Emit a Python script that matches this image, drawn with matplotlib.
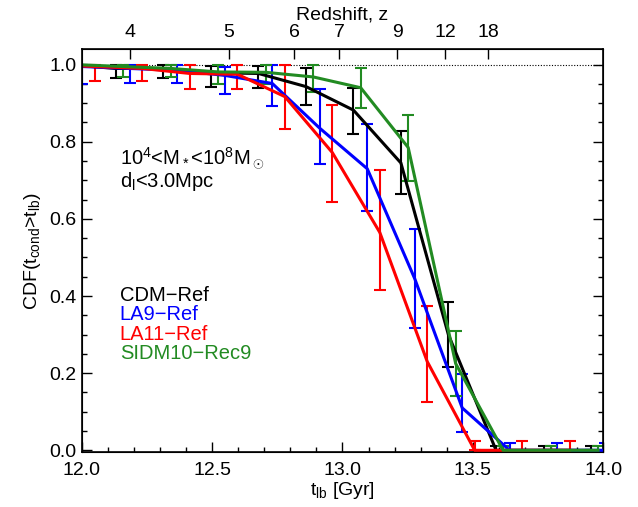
import matplotlib
matplotlib.use("Agg")
import matplotlib.pyplot as plt
from matplotlib.ticker import MultipleLocator

plt.rcParams['font.family'] = ['Liberation Sans', 'DejaVu Sans']
plt.rcParams['mathtext.fontset'] = 'custom'
plt.rcParams['mathtext.rm'] = 'Liberation Sans'
plt.rcParams['mathtext.it'] = 'Liberation Sans:italic'
plt.rcParams['mathtext.sf'] = 'Liberation Sans'

# ---- data ----
t_cdm = [11.948, 12.130, 12.313, 12.496, 12.678, 12.860, 13.042, 13.224, 13.406, 13.589, 13.771, 13.953]
cdf_cdm = [1.0, 0.99, 0.99, 0.979, 0.977, 0.943, 0.882, 0.745, 0.30, 0.0, 0.0, 0.0]
lo_cdm = [1.0, 0.966, 0.966, 0.942, 0.940, 0.896, 0.82, 0.664, 0.215, 0.0, 0.0, 0.0]
hi_cdm = [1.0, 1.0, 1.0, 0.997, 0.997, 0.99, 0.94, 0.828, 0.384, 0.01, 0.01, 0.01]

t_la9 = [12.003, 12.185, 12.367, 12.549, 12.731, 12.913, 13.095, 13.277, 13.459, 13.641, 13.823, 14.005]
cdf_la9 = [0.995, 0.99, 0.985, 0.972, 0.951, 0.835, 0.73, 0.445, 0.11, 0.0, 0.0, 0.0]
lo_la9 = [0.951, 0.953, 0.953, 0.923, 0.893, 0.742, 0.62, 0.318, 0.047, 0.0, 0.0, 0.0]
hi_la9 = [1.0, 1.0, 1.0, 0.994, 0.998, 0.938, 0.847, 0.575, 0.198, 0.02, 0.02, 0.02]

t_la11 = [11.869, 12.051, 12.233, 12.415, 12.597, 12.779, 12.961, 13.143, 13.325, 13.507, 13.689, 13.871]
cdf_la11 = [1.0, 0.995, 0.99, 0.977, 0.975, 0.917, 0.772, 0.565, 0.23, 0.0, 0.0, 0.0]
lo_la11 = [1.0, 0.957, 0.957, 0.938, 0.938, 0.832, 0.645, 0.416, 0.125, 0.0, 0.0, 0.0]
hi_la11 = [1.0, 1.0, 1.0, 0.998, 0.998, 0.998, 0.895, 0.728, 0.374, 0.023, 0.023, 0.023]

t_sidm = [11.978, 12.160, 12.342, 12.524, 12.706, 12.888, 13.070, 13.252, 13.434, 13.616, 13.798, 13.980]
cdf_sidm = [1.0, 0.995, 0.99, 0.981, 0.98, 0.968, 0.94, 0.785, 0.225, 0.0, 0.0, 0.0]
lo_sidm = [1.0, 0.968, 0.968, 0.949, 0.949, 0.929, 0.888, 0.698, 0.14, 0.0, 0.0, 0.0]
hi_sidm = [1.0, 1.0, 1.0, 0.998, 1.0, 1.0, 0.99, 0.869, 0.31, 0.01, 0.01, 0.01]

labels = ['CDM\u2212Ref', 'LA9\u2212Ref', 'LA11\u2212Ref', 'SIDM10\u2212Rec9']
colors = ['black', 'blue', 'red', '#228B22']

z_labels = ['4', '5', '6', '7', '9', '12', '18']
z_tlb = [12.184, 12.564, 12.814, 12.988, 13.210, 13.393, 13.559]

fig = plt.figure(figsize=(6.38, 5.07), dpi=100)
ax = fig.add_axes([0.128, 0.108, 0.8176, 0.795])

series = [(t_cdm, cdf_cdm, lo_cdm, hi_cdm), (t_la9, cdf_la9, lo_la9, hi_la9),
          (t_la11, cdf_la11, lo_la11, hi_la11), (t_sidm, cdf_sidm, lo_sidm, hi_sidm)]

ax.plot([12.0, 14.0], [1.0, 1.0], color='black', ls=(0, (1, 1.5)), lw=0.8, zorder=1)

for (t, c, lo, hi), col in zip(series, colors):
    yerr = [[ci - l for ci, l in zip(c, lo)], [h - ci for ci, h in zip(c, hi)]]
    ax.errorbar(t, c, yerr=yerr, fmt='none', ecolor=col, elinewidth=1.5,
                capsize=4.5, capthick=1.5, zorder=2)
    ax.plot(t, c, color=col, lw=2.2, zorder=3, solid_joinstyle='miter')

ax.set_xlim(12.0, 14.0)
ax.set_ylim(-0.005, 1.04)
ax.xaxis.set_major_locator(MultipleLocator(0.5))
ax.xaxis.set_minor_locator(MultipleLocator(0.1))
ax.yaxis.set_major_locator(MultipleLocator(0.2))
ax.yaxis.set_minor_locator(MultipleLocator(0.05))
ax.xaxis.set_major_formatter(matplotlib.ticker.FormatStrFormatter('%.1f'))
ax.yaxis.set_major_formatter(matplotlib.ticker.FormatStrFormatter('%.1f'))
ax.tick_params(which='both', direction='in', top=False, right=True, labelsize=14, width=1)
ax.tick_params(which='major', length=7)
ax.tick_params(which='minor', length=3.5)
ax.tick_params(axis='x', pad=7)
for s in ax.spines.values():
    s.set_linewidth(1.2)

ax.set_xlabel('t$_\\mathrm{lb}$ [Gyr]', fontsize=14, labelpad=1)
ax.set_ylabel('CDF(t$_\\mathrm{cond}$>t$_\\mathrm{lb}$)', fontsize=14, labelpad=5)

ax2 = ax.twiny()
ax2.set_xlim(ax.get_xlim())
ax2.set_xticks(z_tlb)
ax2.set_xticklabels(z_labels)
ax2.tick_params(direction='in', length=7, width=1, labelsize=14, pad=6)
ax2.set_xlabel('Redshift, z', fontsize=14, labelpad=3)

ax.text(12.146, 0.757, '10$^4$<M$_*$<10$^8$M$_\\odot$', fontsize=14.5, va='center', ha='left')
ax.text(12.146, 0.698, 'd$_\\mathrm{l}$<3.0Mpc', fontsize=14.5, va='center', ha='left')

ys = [0.402, 0.352, 0.301, 0.252]
for lab, col, y in zip(labels, colors, ys):
    ax.text(12.146, y, lab, color=col, fontsize=14.5, va='center', ha='left')

fig.savefig('out.png', dpi=100)
